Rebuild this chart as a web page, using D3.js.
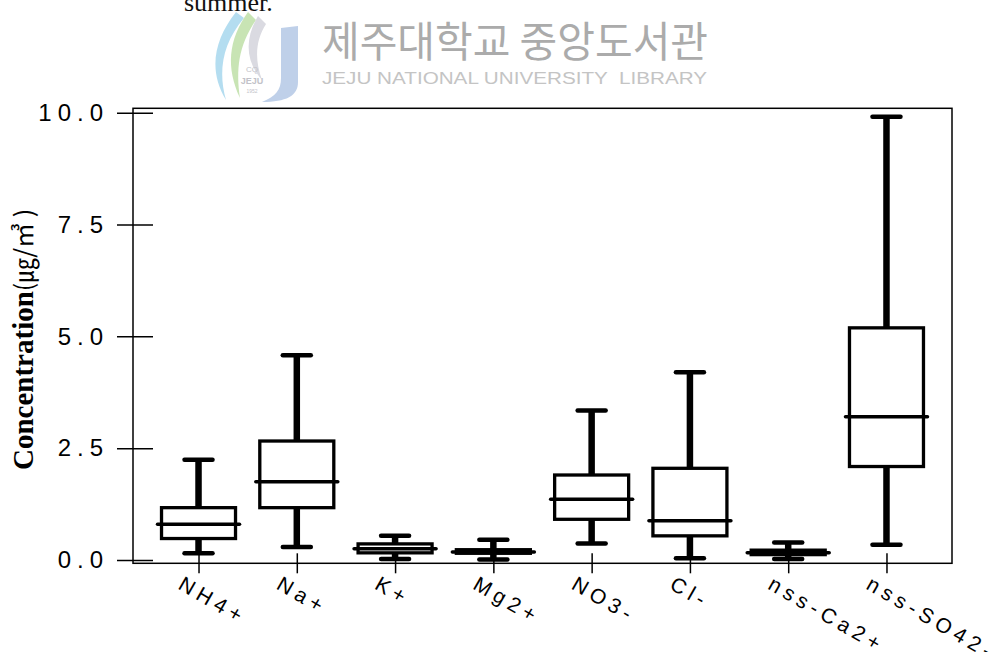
<!DOCTYPE html>
<html>
<head>
<meta charset="utf-8">
<script src="https://cdn.jsdelivr.net/npm/d3@7"></script>
<style>
  html, body { margin: 0; padding: 0; background: #fff; }
  svg { display: block; }
</style>
</head>
<body>
<div id="chart"></div>
<script>
// Ion concentrations (summer), box-plot statistics per species
const categories   = ["NH4+", "Na+", "K+", "Mg2+", "NO3-", "Cl-", "nss-Ca2+", "nss-SO42-"];
const whiskerLow   = [0.15, 0.29, 0.02, 0.01, 0.37, 0.04, 0.02, 0.34];
const quartile1    = [0.48, 1.17, 0.16, 0.15, 0.91, 0.54, 0.12, 2.09];
const medians      = [0.80, 1.75, 0.25, 0.18, 1.36, 0.88, 0.16, 3.20];
const quartile3    = [1.17, 2.66, 0.36, 0.23, 1.90, 2.05, 0.22, 5.19];
const whiskerHigh  = [2.24, 4.58, 0.54, 0.45, 3.34, 4.20, 0.39, 9.91];
const yTickValues  = [0, 2.5, 5, 7.5, 10];

const W = 989, H = 652;
const frame = { left: 133, right: 952, top: 108.3, bottom: 563.3 };

const svg = d3.select("#chart").append("svg")
  .attr("width", W).attr("height", H);

// ---- library watermark and caption fragment at the top ----
const header = svg.append("g");
header.append("text")
  .attr("x", 184).attr("y", 11)
  .attr("font-family", "Liberation Serif")
  .attr("font-size", 26)
  .attr("fill", "#111")
  .text("summer.");

const logo = header.append("g").attr("opacity", 0.85);
logo.append("path")
  .attr("d", "M236,12 C214,40 208,70 226,100 C218,72 222,44 244,18 Z")
  .attr("fill", "#a8d8ee");
logo.append("path")
  .attr("d", "M248,12 C228,40 226,68 240,98 C236,70 238,46 256,20 Z")
  .attr("fill", "#bfe0a8");
logo.append("path")
  .attr("d", "M258,16 C244,40 246,62 262,80 C254,58 256,40 266,24 Z")
  .attr("fill", "#d4d4dc");
logo.append("path")
  .attr("d", "M281,28 L298,26 L298,82 C298,96 286,102 262,102 C276,96 281,90 281,78 Z")
  .attr("fill", "#b4c8e6");
logo.append("text").attr("x", 252).attr("y", 72).attr("text-anchor", "middle")
  .attr("font-family", "Liberation Sans").attr("font-size", 8).attr("fill", "#b8b8c0").text("CQ");
logo.append("text").attr("x", 252).attr("y", 84).attr("text-anchor", "middle")
  .attr("font-family", "Liberation Sans").attr("font-weight", "bold").attr("font-size", 9).attr("fill", "#b8b8c0").text("JEJU");
logo.append("text").attr("x", 252).attr("y", 93).attr("text-anchor", "middle")
  .attr("font-family", "Liberation Sans").attr("font-size", 5).attr("fill", "#b8b8c0").text("1952");

header.append("text")
  .attr("x", 322).attr("y", 57)
  .attr("font-family", "Noto Sans CJK KR")
  .attr("font-size", 42)
  .attr("fill", "#ababab")
  .attr("textLength", 386)
  .attr("lengthAdjust", "spacingAndGlyphs")
  .text("제주대학교 중앙도서관");
header.append("text")
  .attr("x", 322).attr("y", 84)
  .attr("font-family", "Liberation Sans Narrow, Liberation Sans")
  .attr("font-size", 16)
  .attr("fill", "#c4c4c4")
  .attr("textLength", 385)
  .attr("lengthAdjust", "spacingAndGlyphs")
  .attr("xml:space", "preserve")
  .text("JEJU NATIONAL UNIVERSITY  LIBRARY");

// ---- scales ----
const x = d3.scalePoint()
  .domain(categories)
  .range([frame.left, frame.right])
  .padding(2 / 3);
const y = d3.scaleLinear().domain([0, 10]).range([560, 112.7]);

// ---- plot frame ----
svg.append("rect")
  .attr("x", frame.left).attr("y", frame.top)
  .attr("width", frame.right - frame.left)
  .attr("height", frame.bottom - frame.top)
  .attr("fill", "none").attr("stroke", "#000").attr("stroke-width", 1.5);

// ---- y axis: ticks cross the frame line ----
const yAxis = d3.axisLeft(y)
  .tickValues(yTickValues)
  .tickFormat(d3.format(".1f"))
  .tickSizeInner(36).tickSizeOuter(0)
  .tickPadding(8);
const gy = svg.append("g").attr("transform", `translate(${frame.left + 20},0)`).call(yAxis);
gy.select(".domain").remove();
gy.selectAll(".tick line").attr("stroke", "#000").attr("stroke-width", 1.5);
gy.selectAll(".tick text")
  .attr("font-family", "Liberation Sans")
  .attr("font-size", 24)
  .attr("letter-spacing", 6)
  .attr("fill", "#000");

// ---- x axis: ticks cross the bottom frame, rotated labels ----
const xAxis = d3.axisBottom(x).tickSizeInner(20).tickSizeOuter(0).tickPadding(0);
const gx = svg.append("g").attr("transform", `translate(0,${frame.bottom - 10})`).call(xAxis);
gx.select(".domain").remove();
gx.selectAll(".tick line").attr("stroke", "#000").attr("stroke-width", 1.5);
gx.selectAll(".tick text")
  .attr("x", 0).attr("y", 0).attr("dy", 0)
  .attr("text-anchor", "start")
  .attr("transform", "translate(-22,35) rotate(30)")
  .attr("font-family", "Liberation Sans")
  .attr("font-size", 21)
  .attr("letter-spacing", 5)
  .attr("fill", "#000");

// ---- y axis title ----
const title = svg.append("text")
  .attr("transform", "translate(33,470) rotate(-90)")
  .attr("fill", "#000");
title.append("tspan")
  .attr("font-family", "Liberation Serif")
  .attr("font-weight", "bold")
  .attr("font-size", 29)
  .text("Concentration");
title.append("tspan")
  .attr("font-family", "Noto Sans CJK KR")
  .attr("font-size", 25)
  .text("(㎍/㎥ )");

// ---- box plots ----
const stats = categories.map((c, i) => ({
  cat: c, lo: whiskerLow[i], q1: quartile1[i], med: medians[i], q3: quartile3[i], hi: whiskerHigh[i]
}));
const boxW = 74, capW = 28, medExt = 4;

const boxes = svg.append("g").selectAll("g").data(stats).join("g")
  .attr("transform", d => `translate(${x(d.cat)},0)`);

// whisker stems
boxes.append("line")
  .attr("x1", 0).attr("x2", 0)
  .attr("y1", d => y(d.hi)).attr("y2", d => y(d.q3))
  .attr("stroke", "#000").attr("stroke-width", 6.5);
boxes.append("line")
  .attr("x1", 0).attr("x2", 0)
  .attr("y1", d => y(d.q1)).attr("y2", d => y(d.lo))
  .attr("stroke", "#000").attr("stroke-width", 6.5);
// whisker caps
boxes.selectAll(".cap").data(d => [d.hi, d.lo]).join("line")
  .attr("class", "cap")
  .attr("x1", -capW / 2).attr("x2", capW / 2)
  .attr("y1", v => y(v)).attr("y2", v => y(v))
  .attr("stroke", "#000").attr("stroke-width", 4.5)
  .attr("stroke-linecap", "round");
// box
boxes.append("rect")
  .attr("x", -boxW / 2).attr("width", boxW)
  .attr("y", d => y(d.q3)).attr("height", d => y(d.q1) - y(d.q3))
  .attr("fill", "none").attr("stroke", "#000").attr("stroke-width", 3.3);
// median
boxes.append("line")
  .attr("x1", -boxW / 2 - medExt).attr("x2", boxW / 2 + medExt)
  .attr("y1", d => y(d.med)).attr("y2", d => y(d.med))
  .attr("stroke", "#000").attr("stroke-width", 3.5)
  .attr("stroke-linecap", "round");
</script>
</body>
</html>
